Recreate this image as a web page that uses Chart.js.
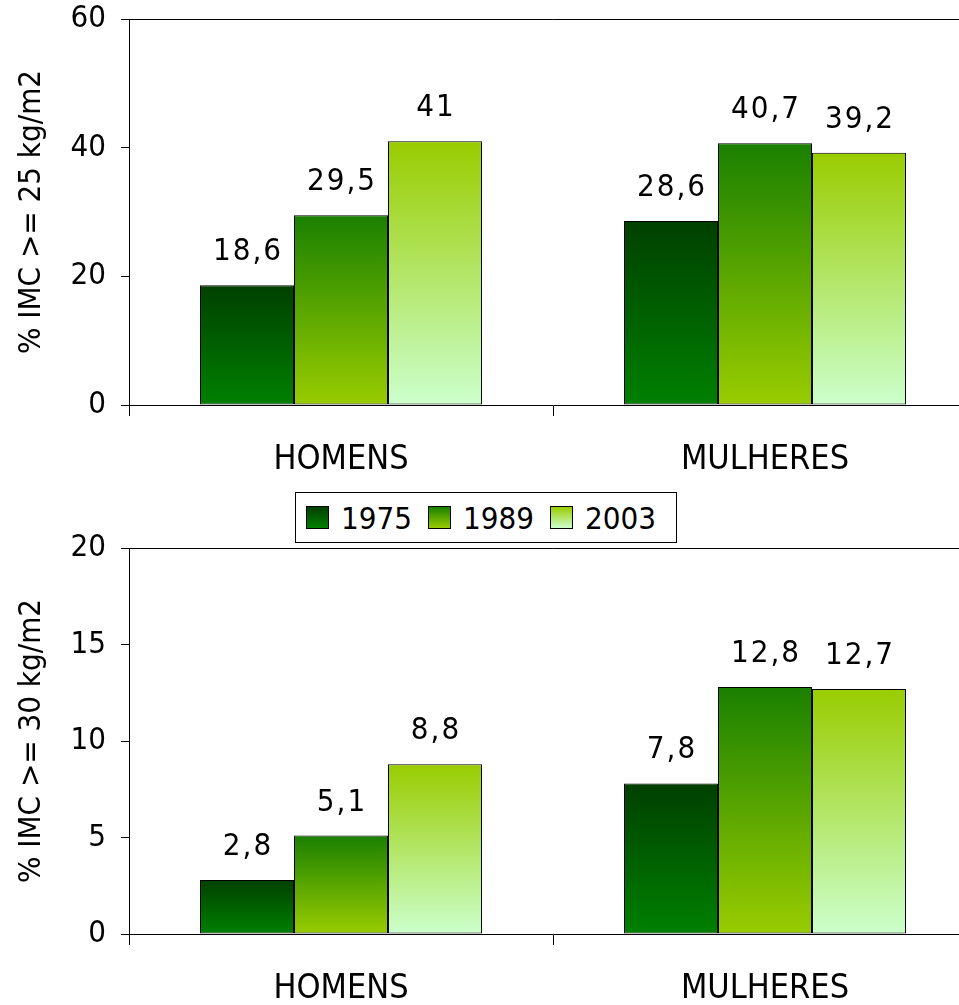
<!DOCTYPE html>
<html>
<head>
<meta charset="utf-8">
<script src="https://cdn.jsdelivr.net/npm/chart.js@4/dist/chart.umd.min.js"></script>
<style>
  html, body { margin: 0; padding: 0; background: #fff; width: 959px; height: 1005px; overflow: hidden; position: relative; }
  canvas { position: absolute; left: 0; }
  #c1 { top: 0; }
  #c2 { top: 529px; }
  #legend {
    position: absolute; left: 295px; top: 492px; width: 380px; height: 49px;
    border: 1px solid #000; background: #fff; z-index: 5;
    display: flex; align-items: center; box-sizing: content-box;
    font-family: 'DejaVu Sans Condensed', 'DejaVu Sans', sans-serif; font-size: 31px; color: #000;
  }
  #legend .item { display: flex; align-items: center; margin-left: 10px; margin-right: 6px; }
  #legend .sw { width: 21px; height: 21px; border: 1px solid #000; margin-right: 12px; }
</style>
</head>
<body>
<canvas id="c1" width="977" height="490"></canvas>
<div id="legend"></div>
<canvas id="c2" width="977" height="490"></canvas>
<script>
// ---- data ----
const categories = ['HOMENS', 'MULHERES'];
const seriesNames = ['1975', '1989', '2003'];
const overweight1975 = [18.6, 28.6];
const overweight1989 = [29.5, 40.7];
const overweight2003 = [41, 39.2];
const obesity1975 = [2.8, 7.8];
const obesity1989 = [5.1, 12.8];
const obesity2003 = [8.8, 12.7];
const topTicks = [0, 20, 40, 60];
const bottomTicks = [0, 5, 10, 15, 20];
const topTitle = '% IMC >= 25 kg/m2';
const bottomTitle = '% IMC >= 30 kg/m2';

// ---- styles ----
const FONT = "'DejaVu Sans Condensed', 'DejaVu Sans', sans-serif";
const gradStops = [
  ['#004000', '#008000'],
  ['#1a8000', '#99cc00'],
  ['#99cc00', '#ccffcc']
];

Chart.defaults.font.family = FONT;
Chart.defaults.color = '#000';

function barGradient(top, bottom) {
  return (ctx) => {
    const chart = ctx.chart;
    if (!chart.chartArea || ctx.type !== 'data' || !chart.scales.y) return bottom;
    const y0 = chart.scales.y.getPixelForValue(0);
    const y1 = chart.scales.y.getPixelForValue(ctx.raw);
    const g = chart.ctx.createLinearGradient(0, y1, 0, y0);
    g.addColorStop(0, top);
    g.addColorStop(1, bottom);
    return g;
  };
}

const valueLabels = {
  id: 'valueLabels',
  afterDatasetsDraw(chart) {
    const ctx = chart.ctx;
    ctx.save();
    ctx.font = '31px ' + FONT;
    ctx.fillStyle = '#000';
    ctx.textAlign = 'center';
    ctx.textBaseline = 'alphabetic';
    if ('letterSpacing' in ctx) ctx.letterSpacing = '2px';
    chart.data.datasets.forEach((ds, i) => {
      chart.getDatasetMeta(i).data.forEach((bar, j) => {
        const txt = String(ds.data[j]).replace('.', ',');
        ctx.fillText(txt, bar.x + 1, bar.y - 25);
      });
    });
    ctx.restore();
  }
};

function makeChart(id, seriesData, ticks, title) {
  const maxV = ticks[ticks.length - 1];
  return new Chart(document.getElementById(id), {
    type: 'bar',
    data: {
      labels: categories,
      datasets: seriesData.map((d, i) => ({
        label: seriesNames[i],
        data: d,
        backgroundColor: barGradient(gradStops[i][0], gradStops[i][1]),
        borderColor: '#000',
        borderWidth: 1,
        borderSkipped: false,
        barPercentage: 1,
        categoryPercentage: 0.665
      }))
    },
    options: {
      responsive: false,
      animation: false,
      devicePixelRatio: 1,
      layout: { padding: { top: 19, left: 0, right: 0, bottom: 0 } },
      plugins: { legend: { display: false }, tooltip: { enabled: false } },
      scales: {
        x: {
          grid: { display: true, drawOnChartArea: false, offset: true, tickLength: 11, color: '#000', tickColor: '#000' },
          border: { display: true, color: '#000', width: 1 },
          ticks: { font: { size: 34 }, padding: 24, color: '#000', maxRotation: 0 },
          afterFit(s) { s.height = 85; s.paddingLeft = 0; s.paddingRight = 0; }
        },
        y: {
          min: 0, max: maxV,
          afterBuildTicks(s) { s.ticks = ticks.map(v => ({ value: v })); },
          grid: {
            drawOnChartArea: true, tickLength: 8,
            color: (c) => (c.tick && c.tick.value === maxV) ? '#000' : 'rgba(0,0,0,0)',
            tickColor: '#000'
          },
          border: { display: true, color: '#000', width: 1 },
          ticks: { font: { size: 31 }, padding: 15, color: '#000' },
          title: { display: true, text: title, font: { size: 31 }, color: '#000', padding: { top: 13, bottom: 0 } },
          afterFit(s) { s.width = 129; s.paddingTop = 0; s.paddingBottom = 0; }
        }
      }
    },
    plugins: [valueLabels]
  });
}

makeChart('c1', [overweight1975, overweight1989, overweight2003], topTicks, topTitle);
makeChart('c2', [obesity1975, obesity1989, obesity2003], bottomTicks, bottomTitle);

// HTML legend built from series names
const leg = document.getElementById('legend');
seriesNames.forEach((name, i) => {
  const item = document.createElement('div');
  item.className = 'item';
  const sw = document.createElement('div');
  sw.className = 'sw';
  sw.style.background = 'linear-gradient(to bottom, ' + gradStops[i][0] + ', ' + gradStops[i][1] + ')';
  const t = document.createElement('span');
  t.textContent = name;
  item.appendChild(sw);
  item.appendChild(t);
  leg.appendChild(item);
});
</script>
</body>
</html>
